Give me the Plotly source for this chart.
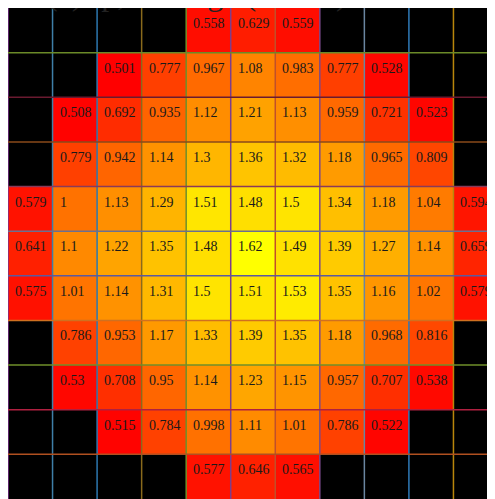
import plotly.graph_objects as go

N = None
rows = list(range(11))
cols = list(range(11))
values = [
    [N, N, N, N, 0.558, 0.629, 0.559, N, N, N, N],
    [N, N, 0.501, 0.777, 0.967, 1.08, 0.983, 0.777, 0.528, N, N],
    [N, 0.508, 0.692, 0.935, 1.12, 1.21, 1.13, 0.959, 0.721, 0.523, N],
    [N, 0.779, 0.942, 1.14, 1.3, 1.36, 1.32, 1.18, 0.965, 0.809, N],
    [0.579, 1, 1.13, 1.29, 1.51, 1.48, 1.5, 1.34, 1.18, 1.04, 0.594],
    [0.641, 1.1, 1.22, 1.35, 1.48, 1.62, 1.49, 1.39, 1.27, 1.14, 0.659],
    [0.575, 1.01, 1.14, 1.31, 1.5, 1.51, 1.53, 1.35, 1.16, 1.02, 0.579],
    [N, 0.786, 0.953, 1.17, 1.33, 1.39, 1.35, 1.18, 0.968, 0.816, N],
    [N, 0.53, 0.708, 0.95, 1.14, 1.23, 1.15, 0.957, 0.707, 0.538, N],
    [N, N, 0.515, 0.784, 0.998, 1.11, 1.01, 0.786, 0.522, N, N],
    [N, N, N, N, 0.577, 0.646, 0.565, N, N, N, N],
]
title_text = "(a) Ip, Average (PCSO)"

vline_colors = ["#7a2e8c", "#3f7fa8", "#2d78b0", "#8a6a1c", "#6f8f2a", "#7d3f8c",
                "#c0502a", "#7a4a8a", "#6a86a0", "#2f7ab8", "#b8860b"]
hline_colors = ["#6b8a28", "#6a1a30", "#8a4a1a", "#8a3a5a", "#6a7090", "#5a5aa0",
                "#d07020", "#6f8f2a", "#b02040", "#b05020"]

fig = go.Figure()
fig.add_trace(go.Heatmap(
    z=values, x=cols, y=rows,
    colorscale=[[0, "#ff0000"], [1, "#ffff00"]],
    zmin=0.5, zmax=1.62, showscale=False, hoverongaps=False,
))

# grid lines between cells
for k, c in enumerate(vline_colors):
    xb = cols[k] - 0.5
    fig.add_trace(go.Scatter(x=[xb, xb], y=[rows[0] - 0.5, rows[-1] + 0.5], mode="lines",
                             line=dict(color=c, width=1.5), hoverinfo="skip", showlegend=False))
for k, c in enumerate(hline_colors):
    yb = rows[k] + 0.5
    fig.add_trace(go.Scatter(x=[cols[0] - 0.5, cols[-1] + 0.5], y=[yb, yb], mode="lines",
                             line=dict(color=c, width=1.5), hoverinfo="skip", showlegend=False))

annotations = []
for i, r in enumerate(rows):
    for j, c in enumerate(cols):
        v = values[i][j]
        if v is None:
            continue
        annotations.append(dict(
            x=c - 0.5, y=r - 0.5, xref="x", yref="y", text=f"{v:.3g}",
            showarrow=False, xanchor="left", yanchor="top", xshift=5, yshift=-6,
            font=dict(family="Liberation Serif", size=14, color="#1a1a1a"),
        ))
annotations.append(dict(
    x=0.0755, y=1, xref="paper", yref="paper", text=title_text, showarrow=False,
    xanchor="left", yanchor="bottom", yshift=-6,
    font=dict(family="Liberation Serif", size=32, color="#222222"),
))

fig.update_layout(
    width=490, height=491,
    margin=dict(l=0, r=0, t=0, b=0),
    paper_bgcolor="white", plot_bgcolor="black",
    xaxis=dict(range=[-0.5, 10.5], showgrid=False, zeroline=False, showticklabels=False, ticks=""),
    yaxis=dict(range=[10.5, -0.5], showgrid=False, zeroline=False, showticklabels=False, ticks=""),
    annotations=annotations,
    showlegend=False,
)

fig.write_html("out.html")
